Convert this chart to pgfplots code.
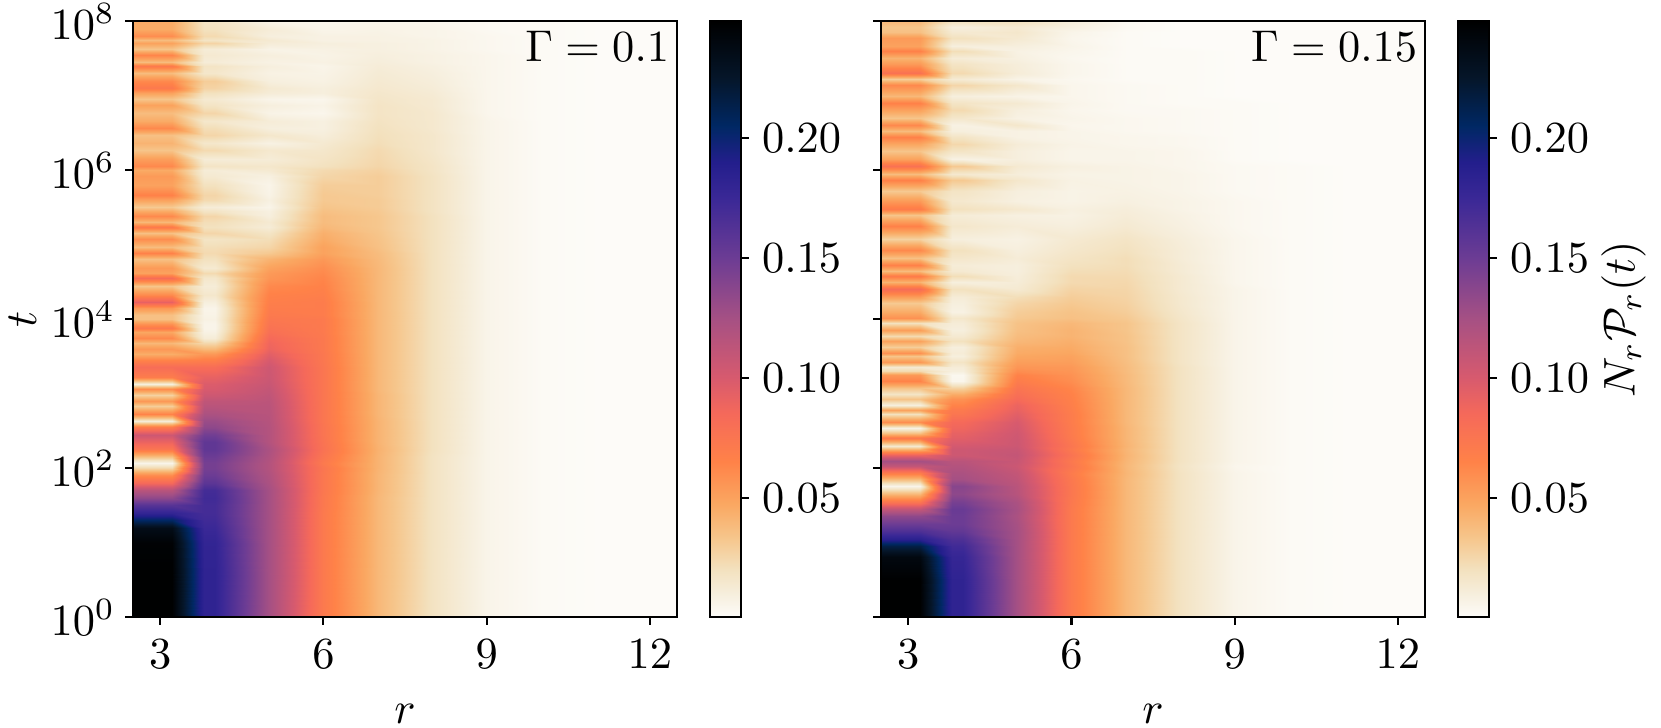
\documentclass[border=0pt]{standalone}
\usepackage{pgfplots}
\usepackage{pgfplotstable}
\pgfplotsset{compat=1.18}
% values of N_r P_r(t) in units of 10^-3; y = log10 t
\pgfplotstableread{
y r3 r4 r5 r6 r7 r8 r9 r10 r11 r12
0.0 248 182 125 72 40 19 6 2 1 1
0.6 248 182 125 72 40 19 6 2 1 1
1.0 246 180 125 72 40 19 6 2 1 1
1.2 235 175 125 72 40 19 6 2 1 1
1.3 205 172 125 72 40 19 6 2 1 1
1.4 180 170 125 72 40 19 6 2 1 1
1.5 160 170 125 73 40 19 6 2 1 1
1.6 135 172 125 73 40 19 6 2 1 1
1.7 115 170 125 74 41 19 6 2 1 1
1.8 85 158 122 74 41 19 6 2 1 1
1.9 60 150 120 74 41 19 6 2 1 1
2.0 25 146 118 75 42 19 6 2 1 1
2.07 6 146 118 72 42 19 6 2 1 1
2.15 35 150 120 75 42 19 6 2 1 1
2.25 75 156 122 78 43 20 6 2 1 1
2.35 90 156 118 77 42 20 6 2 1 1
2.45 105 148 118 76 42 20 6 2 1 1
2.55 70 135 118 76 42 20 6 2 1 1
2.63 12 130 117 75 42 20 6 2 1 1
2.72 65 122 116 75 41 20 6 2 1 1
2.83 30 115 115 75 41 20 6 2 1 1
2.9 55 112 114 75 41 20 6 2 1 1
2.98 28 105 112 75 41 20 6 2 1 1
3.06 60 100 110 75 40 20 6 2 1 1
3.13 10 98 108 75 40 20 6 2 1 1
3.22 70 92 106 75 40 20 6 2 1 1
3.35 82 82 105 75 40 20 6 2 1 1
3.45 65 68 100 74 40 20 6 2 1 1
3.53 45 55 95 74 40 20 6 2 1 1
3.6 55 40 90 73 40 20 6 2 1 1
3.68 40 25 88 73 40 20 6 2 1 1
3.74 62 12 85 73 40 20 6 2 1 1
3.82 48 8 80 72 40 20 6 2 1 1
3.88 72 6 78 72 40 20 6 2 1 1
3.94 58 6 76 72 40 20 6 2 1 1
4.0 36 8 74 72 40 20 6 2 1 1
4.06 36 7 72 70 40 20 6 2 1 1
4.15 55 6 70 70 40 20 6 2 1 1
4.23 92 10 68 70 40 20 6 2 1 1
4.32 62 16 66 68 40 20 6 2 1 1
4.44 34 12 62 66 40 20 6 2 1 1
4.55 82 16 56 64 40 20 6 2 1 1
4.62 50 24 54 62 40 20 6 2 1 1
4.69 54 14 50 60 40 20 6 2 1 1
4.8 36 20 42 55 39 20 6 2 1 1
4.89 66 24 32 50 38 20 6 2 1 1
4.97 38 22 26 50 36 20 6 2 1 1
5.08 60 18 22 46 35 20 6 2 1 1
5.16 36 26 18 44 34 20 6 2 1 1
5.24 72 20 12 40 33 20 6 2 1 1
5.3 40 22 14 38 33 20 6 2 1 1
5.38 62 26 10 38 33 20 6 2 1 1
5.45 46 18 9 36 32 19 6 2 1 1
5.51 32 12 6 34 31 19 6 2 1 1
5.6 50 24 9 32 31 19 6 2 1 1
5.67 66 26 7 32 30 19 6 2 1 1
5.8 50 20 6 30 30 19 6 2 1 1
5.92 54 14 9 26 30 19 6 2 1 1
6.0 46 12 14 24 28 18 6 2 1 1
6.06 62 18 16 20 26 18 6 2 1 1
6.15 52 12 12 18 25 17 6 2 1 1
6.27 34 24 15 16 24 16 6 2 1 1
6.36 42 16 8 14 22 16 6 2 1 1
6.47 36 26 16 11 21 16 6 2 1 1
6.56 62 22 10 9 20 15 6 2 1 1
6.66 46 16 12 9 19 15 6 2 1 1
6.76 38 26 7 5 18 15 5 2 1 1
6.87 50 18 10 7 18 14 5 2 1 1
6.95 34 14 6 5 17 14 5 2 1 1
7.03 50 20 12 10 16 13 5 2 1 1
7.1 72 27 14 10 15 12 5 2 1 1
7.19 62 30 10 8 14 11 5 2 1 1
7.3 38 16 8 7 13 10 5 2 1 1
7.39 72 18 10 6 12 9 5 2 1 1
7.45 38 12 8 8 11 8 5 2 1 1
7.55 64 14 10 7 10 8 5 2 1 1
7.63 34 12 7 8 9 7 4 2 1 1
7.7 50 27 12 10 9 7 4 2 1 1
7.75 38 18 14 8 8 7 4 2 1 1
7.8 60 24 10 8 8 6 4 2 1 1
7.9 46 20 12 6 7 6 3 2 1 1
8.0 46 18 7 5 6 5 3 2 1 1
}\TA
\pgfplotstableread{
y r3 r4 r5 r6 r7 r8 r9 r10 r11 r12
0.0 248 182 125 72 40 19 6 2 1 1
0.5 248 182 125 72 40 19 6 2 1 1
0.8 240 178 125 72 40 19 6 2 1 1
0.95 215 172 125 72 40 19 6 2 1 1
1.05 185 165 125 72 40 19 6 2 1 1
1.15 165 155 125 72 40 19 6 2 1 1
1.25 150 150 124 72 40 19 6 2 1 1
1.35 135 150 122 72 40 19 6 2 1 1
1.45 110 152 124 72 40 19 6 2 1 1
1.55 75 145 122 73 40 19 6 2 1 1
1.65 40 135 116 74 40 19 6 2 1 1
1.76 6 138 115 74 40 19 6 2 1 1
1.85 40 125 112 73 40 19 6 2 1 1
1.94 70 122 110 71 41 19 6 2 1 1
2.03 110 118 106 75 40 18 5 2 1 1
2.1 125 115 108 73 41 19 6 2 1 1
2.18 90 105 110 77 42 19 6 2 1 1
2.25 40 105 108 73 41 19 6 2 1 1
2.3 15 102 106 75 42 19 6 2 1 1
2.4 72 95 105 72 41 19 6 2 1 1
2.47 35 92 104 71 41 19 6 2 1 1
2.54 8 88 102 71 41 19 6 2 1 1
2.62 60 85 100 70 40 19 6 2 1 1
2.72 20 75 95 70 40 19 6 2 1 1
2.78 50 72 92 69 40 19 6 2 1 1
2.85 10 65 90 68 40 19 6 2 1 1
2.93 35 58 84 67 40 19 6 2 1 1
3.0 18 45 80 66 40 19 6 2 1 1
3.08 35 28 76 64 40 19 6 2 1 1
3.17 65 5 70 60 39 19 6 2 1 1
3.25 55 4 66 58 39 19 6 2 1 1
3.3 24 10 60 56 38 19 6 2 1 1
3.35 14 12 56 55 38 19 6 2 1 1
3.43 55 18 52 52 37 18 6 2 1 1
3.5 34 10 48 50 36 18 6 2 1 1
3.55 58 12 46 48 36 18 6 2 1 1
3.62 30 10 44 46 36 18 6 2 1 1
3.7 50 20 40 44 35 18 6 2 1 1
3.77 24 14 38 42 35 18 6 2 1 1
3.85 52 10 36 42 34 18 6 2 1 1
3.95 20 12 35 40 34 18 6 2 1 1
4.02 58 16 32 36 32 17 6 2 1 1
4.1 46 8 30 35 30 16 6 2 1 1
4.22 32 10 26 32 28 15 6 2 1 1
4.3 52 12 22 30 27 15 6 2 1 1
4.4 82 20 14 27 26 14 6 2 1 1
4.5 42 10 12 24 25 14 5 2 1 1
4.58 70 22 11 24 24 14 5 2 1 1
4.65 38 14 10 22 23 13 5 2 1 1
4.72 66 12 10 20 22 13 5 2 1 1
4.82 36 16 12 18 22 12 5 2 1 1
4.93 62 20 10 16 20 12 5 2 1 1
5.07 28 10 8 14 18 11 5 2 1 1
5.25 66 16 12 10 14 9 4 2 1 1
5.4 34 12 9 8 12 8 4 2 1 1
5.48 70 20 15 9 11 7 4 2 1 1
5.58 54 15 9 7 9 7 4 2 1 1
5.72 32 18 10 7 8 6 3 2 1 1
5.87 66 32 16 8 7 6 3 2 1 1
5.95 38 15 11 7 7 6 3 2 1 1
6.05 78 32 14 9 7 5 3 2 1 1
6.15 50 8 10 6 6 5 2 1 1 1
6.25 34 18 10 6 6 5 2 1 1 1
6.35 48 25 12 7 5 4 2 1 1 1
6.45 66 18 8 6 5 4 2 1 1 1
6.53 38 10 8 6 4 3 2 1 1 1
6.6 62 8 16 5 4 3 2 1 1 1
6.7 34 16 8 6 4 3 2 1 1 1
6.8 50 24 10 5 3 3 2 1 1 1
6.9 66 18 14 6 3 2 2 1 1 1
7.0 40 10 7 5 3 2 1 1 1 1
7.14 62 26 16 5 3 2 1 1 1 1
7.22 30 13 7 4 2 2 1 1 1 1
7.3 78 24 12 5 2 2 1 1 1 1
7.43 54 18 11 5 2 2 1 1 1 1
7.5 42 12 9 4 2 2 1 1 1 1
7.6 66 22 8 5 2 2 1 1 1 1
7.66 50 10 10 6 2 1 1 1 1 1
7.77 54 20 14 5 2 1 1 1 1 1
7.85 36 14 16 6 2 1 1 1 1 1
7.92 34 10 14 9 3 1 1 1 1 1
8.0 40 20 20 11 3 1 1 1 1 1
}\TB
\newcommand\buildcoords[2]{%
  \pgfplotstablegetrowsof{#1}\pgfmathtruncatemacro\lastrow{\pgfplotsretval-1}%
  \gdef#2{}%
  \foreach \i in {0,...,\lastrow}{%
    \pgfplotstablegetelem{\i}{y}\of{#1}\edef\yy{\pgfplotsretval}%
    \foreach \xv/\c in {2.5/r3,3/r3,3.22/r3,3.8/r4,4/r4,5/r5,6/r6,7/r7,8/r8,9/r9,10/r10,11/r11,12/r12,12.5/r12}{%
      \pgfplotstablegetelem{\i}{\c}\of{#1}%
      \xdef#2{#2 (\xv,\yy) [\pgfplotsretval e-3]}%
    }%
  }%
}
\pgfplotsset{
  colormap={flam}{
    rgb255(0pt)=(253,252,249) rgb255(10pt)=(246,238,220) rgb255(20pt)=(243,225,190)
    rgb255(33pt)=(246,198,140) rgb255(47pt)=(250,168,98) rgb255(65pt)=(255,130,72)
    rgb255(85pt)=(245,105,90) rgb255(100pt)=(215,90,110) rgb255(125pt)=(165,80,132)
    rgb255(150pt)=(108,60,148) rgb255(175pt)=(58,40,150) rgb255(190pt)=(35,30,140)
    rgb255(205pt)=(0,40,100) rgb255(225pt)=(5,22,42) rgb255(249pt)=(0,0,0)
  },
  panel/.style={
    scale only axis, width=122.4pt, height=134.1pt, anchor=south west,
    xmin=2.5, xmax=12.5, ymin=0, ymax=8,
    xtick={3,6,9,12}, ytick={0,2,4,6,8},
    tick align=outside, xtick pos=bottom, ytick pos=left,
    major tick length=1.7pt, tick style={line width=0.47pt,black},
    axis line style={line width=0.5pt},
    axis on top, xlabel={$r$},
    xlabel style={yshift=-1.2pt},
    yticklabel style={xshift=1.2pt},
    point meta min=0.0005, point meta max=0.2487,
    colormap name=flam,
    colorbar,
    colorbar style={
      at={(1.0607,0)}, anchor=south west,
      scale only axis, width=6.98pt, height=134.1pt,
      ytick={0.05,0.10,0.15,0.20},
      yticklabel style={xshift=-0.5pt,/pgf/number format/fixed,/pgf/number format/fixed zerofill,/pgf/number format/precision=2},
      tick align=outside, major tick length=1.7pt,
      tick style={line width=0.47pt,black},
      axis line style={line width=0.5pt},
      ytick pos=right, yticklabel pos=right,
    },
  },
}
\begin{document}
\buildcoords{\TA}{\CA}%
\buildcoords{\TB}{\CB}%
\begin{tikzpicture}
\useasboundingbox (0,0) rectangle (373.72pt,163.58pt);
\begin{axis}[panel, at={(29.93pt,24.75pt)},
  yticklabels={$10^0$,$10^2$,$10^4$,$10^6$,$10^8$}, ylabel={$t$}, ylabel style={yshift=-3.6pt}]
\edef\cmd{\noexpand\addplot[surf,shader=interp,mesh/cols=14,point meta=explicit] coordinates {\CA};}\cmd
\node[anchor=north east,inner sep=0pt] at (rel axis cs:0.987,0.985) {$\Gamma=0.1$};
\end{axis}
\begin{axis}[panel, at={(198.23pt,24.75pt)}, yticklabels={},
  colorbar style={ylabel={$N_r\mathcal{P}_r(t)$}, ylabel style={yshift=4.15pt}}]
\edef\cmd{\noexpand\addplot[surf,shader=interp,mesh/cols=14,point meta=explicit] coordinates {\CB};}\cmd
\node[anchor=north east,inner sep=0pt] at (rel axis cs:0.987,0.985) {$\Gamma=0.15$};
\end{axis}
\end{tikzpicture}
\end{document}
